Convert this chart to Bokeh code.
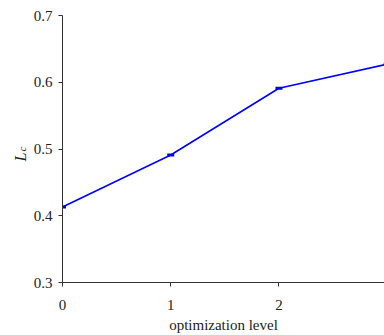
import math
from bokeh.plotting import figure
from bokeh.layouts import row
from bokeh.models import Range1d, FixedTicker
from bokeh.core.properties import value
from bokeh.embed import file_html
from bokeh.resources import INLINE

levels = [0, 1, 2, 3]
lc_values = [0.413, 0.491, 0.591, 0.627]
y_ticks = [0.3, 0.4, 0.5, 0.6, 0.7]
x_ticks = [0, 1, 2]

FONT = "Liberation Serif"
TXT = "#222222"

SIDE_W = 28

# narrow side panel holding the y-axis title "L_c"
# (its frame is aligned with the main frame: pixel rows 15..282)
side = figure(width=SIDE_W, height=335, output_backend="svg", toolbar_location=None,
              x_range=Range1d(0, SIDE_W), y_range=Range1d(335 - 282, 335 - 15),
              x_axis_location=None, y_axis_location=None,
              min_border_left=0, min_border_right=0, min_border_top=15, min_border_bottom=53)
side.grid.visible = False
side.outline_line_color = None
side.text(x=[19.5], y=[335 - 161], text=["L"], angle=math.pi / 2,
          text_font=value(FONT), text_font_style="italic", text_font_size="16px",
          text_color=TXT, text_align="left", text_baseline="alphabetic")
side.text(x=[21.5], y=[335 - 151], text=["c"], angle=math.pi / 2,
          text_font=value(FONT), text_font_style="italic", text_font_size="11px",
          text_color=TXT, text_align="left", text_baseline="alphabetic")

p = figure(width=384 - SIDE_W, height=335, output_backend="svg", toolbar_location=None,
           x_range=Range1d(0, 2.975), y_range=Range1d(0.3, 0.7),
           min_border_left=62 - SIDE_W, min_border_right=0, min_border_top=15,
           min_border_bottom=53)
p.outline_line_color = None
p.grid.visible = False

p.line(levels, lc_values, line_color="#0000ff", line_width=1.6)
p.rect(levels, lc_values, width=7, height=3, width_units="screen", height_units="screen",
       fill_color="#0000ff", line_color=None)

for ax in (p.xaxis[0], p.yaxis[0]):
    ax.axis_line_color = "#333333"
    ax.major_tick_line_color = "#333333"
    ax.minor_tick_line_color = None
    ax.major_tick_in = 0
    ax.major_tick_out = 4
    ax.major_label_text_font = FONT
    ax.major_label_text_font_size = "15px"
    ax.major_label_text_color = TXT
    ax.axis_label_text_font = FONT
    ax.axis_label_text_font_style = "normal"
    ax.axis_label_text_font_size = "15px"
    ax.axis_label_text_color = TXT

p.xaxis.ticker = FixedTicker(ticks=x_ticks)
p.yaxis.ticker = FixedTicker(ticks=y_ticks)
p.yaxis.formatter.use_scientific = False
p.xaxis.major_label_standoff = 13
p.yaxis.major_label_standoff = 6
p.xaxis.axis_label = "optimization level"
p.xaxis.axis_label_standoff = 4

layout = row(side, p, spacing=0)
open("out.html", "w").write(file_html(layout, INLINE))
